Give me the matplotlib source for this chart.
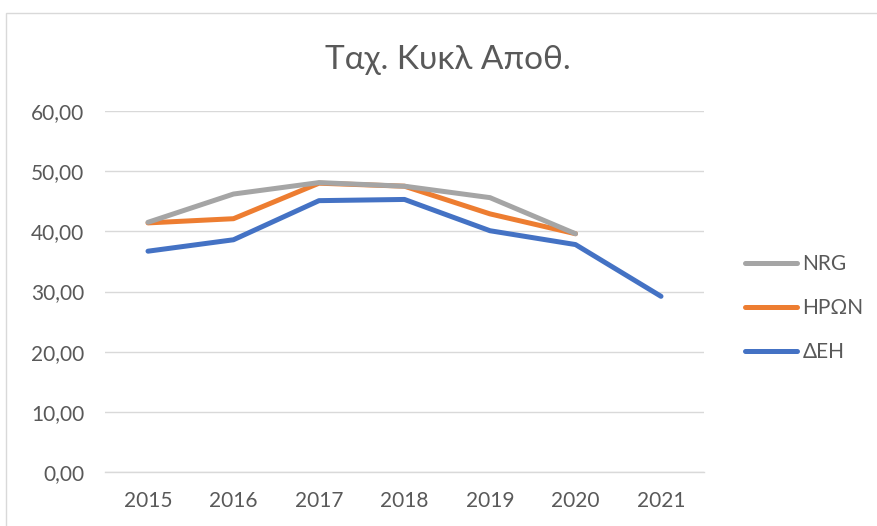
import matplotlib
matplotlib.use("Agg")
import matplotlib.pyplot as plt
from matplotlib.patches import Rectangle
from matplotlib.lines import Line2D

years = ["2015", "2016", "2017", "2018", "2019", "2020", "2021"]
nrg = [41.5, 46.2, 48.1, 47.5, 45.6, 39.6, None]
heron = [41.4, 42.1, 48.0, 47.5, 42.9, 39.6, None]
deh = [36.7, 38.6, 45.1, 45.3, 40.1, 37.8, 29.2]
yticks = [0, 10, 20, 30, 40, 50, 60]
title = "Ταχ. Κυκλ Αποθ."

plt.rcParams['font.family'] = ['Lato', 'DejaVu Sans']
txt = '#595959'

fig = plt.figure(figsize=(8.78, 5.26), dpi=100)
fig.patches.append(Rectangle((6/878, -0.1), 1.2, (526-13)/526 + 0.1, transform=fig.transFigure,
                             fill=False, edgecolor='#D9D9D9', linewidth=1.0))
ax = fig.add_axes([105.25/878, 54/526, 598.5/878, 361/526])

x = list(range(len(years)))
def pts(vals):
    xs = [i for i, v in zip(x, vals) if v is not None]
    ys = [v for v in vals if v is not None]
    return xs, ys

series = [("ΔΕΗ", deh, '#4472C4'), ("ΗΡΩΝ", heron, '#ED7D31'), ("NRG", nrg, '#A5A5A5')]
for z, (name, vals, col) in enumerate(series):
    xs, ys = pts(vals)
    ax.plot(xs, ys, color=col, linewidth=3.6, solid_capstyle='round', solid_joinstyle='round', zorder=3 + z)

ax.set_xlim(-0.5, len(years) - 0.5)
ax.set_ylim(0, 60)
ax.set_xticks(x)
ax.set_xticklabels(years)
ax.set_yticks(yticks)
ax.set_yticklabels([f"{v:.2f}".replace('.', ',') for v in yticks])
ax.grid(axis='y', color='#D9D9D9', linewidth=1.0)
ax.set_axisbelow(True)
for s in ['top', 'right', 'left']:
    ax.spines[s].set_visible(False)
ax.spines['bottom'].set_color('#D9D9D9')
ax.spines['bottom'].set_linewidth(1.0)
ax.tick_params(axis='both', length=0, labelsize=15, colors=txt)
ax.tick_params(axis='y', pad=15)
ax.tick_params(axis='x', pad=14)

fig.text(448/878, 1 - 60/526, title, ha='center', va='center', fontsize=24, color=txt)

handles = [Line2D([0], [0], color=c, linewidth=3.6, solid_capstyle='round') for _, _, c in series[::-1]]
labels = [n for n, _, _ in series[::-1]]
fig.legend(handles, labels, loc='center left', bbox_to_anchor=(745/878, 1 - 308/526),
           frameon=False, fontsize=15, labelcolor=txt, handlelength=2.5,
           handletextpad=0.25, labelspacing=1.15, borderpad=0, borderaxespad=0)

fig.savefig("out.png", dpi=100)
